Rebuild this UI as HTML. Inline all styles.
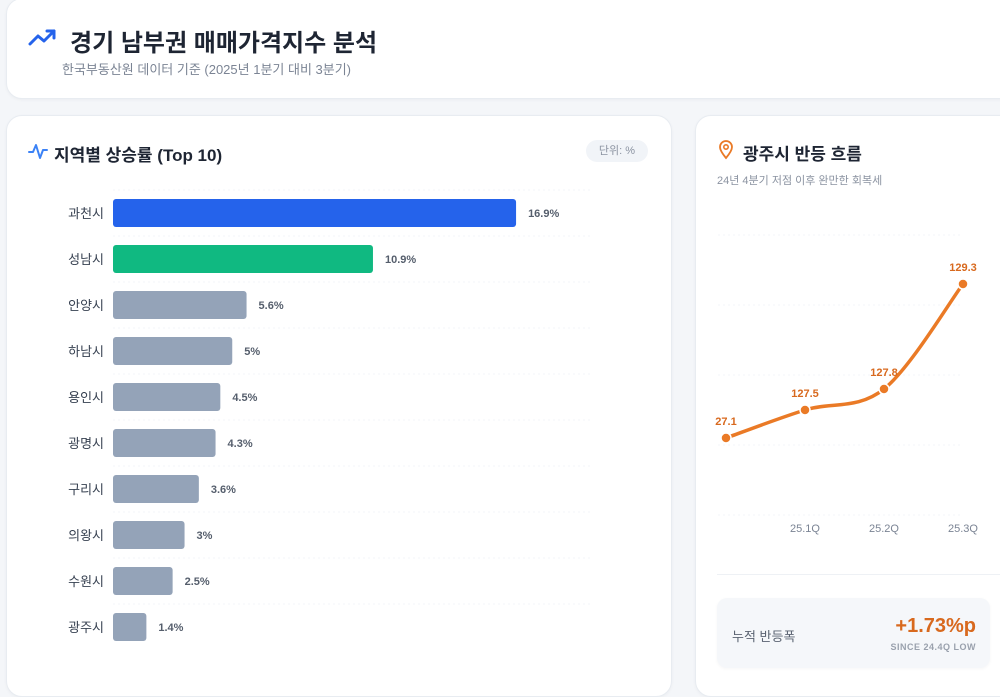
<!DOCTYPE html>
<html><head><meta charset="utf-8">
<style>
body{margin:0;width:1000px;height:671px;overflow:hidden;background:#f4f6f9;font-family:"Liberation Sans","Noto Sans CJK KR",sans-serif;position:relative}
.card{position:absolute;background:#fff;border:1px solid #e8ecf1;border-radius:16px;box-shadow:0 1px 3px rgba(0,0,0,0.04)}
.t{position:absolute;white-space:nowrap}
</style></head><body>
<div class="card" style="left:6px;top:-2px;width:1010px;height:99px"></div>
<svg style="position:absolute;left:28px;top:28px" width="30" height="20" viewBox="0 0 30 20"><polyline points="2,16 10,8 16,13 26,3" fill="none" stroke="#2563eb" stroke-width="3" stroke-linecap="round" stroke-linejoin="round"/><polyline points="19,3 26,3 26,10" fill="none" stroke="#2563eb" stroke-width="3" stroke-linecap="round" stroke-linejoin="round"/></svg>
<div class="t" style="left:70px;top:23px;font-size:24px;font-weight:bold;color:#1e2533">경기 남부권 매매가격지수 분석</div>
<div class="t" style="left:62px;top:59px;font-size:13px;color:#7b8494">한국부동산원 데이터 기준 (2025년 1분기 대비 3분기)</div>

<div class="card" style="left:6px;top:115px;width:664px;height:580px"></div>
<svg style="position:absolute;left:28px;top:142px" width="20" height="18" viewBox="0 0 20 18"><polyline points="1,10 5,10 8,3 12,16 15,8 19,8" fill="none" stroke="#3b82f6" stroke-width="2" stroke-linejoin="round" stroke-linecap="round"/></svg>
<div class="t" style="left:54px;top:141px;font-size:17px;font-weight:bold;color:#1e2533">지역별 상승률 (Top 10)</div>
<div class="t" style="left:586px;top:140px;width:62px;height:22px;line-height:22px;text-align:center;border-radius:11px;background:#f1f4f8;font-size:11px;color:#8b93a1">단위: %</div>
<svg id="bars" style="position:absolute;left:0;top:0" width="680" height="671"></svg>

<div class="card" style="left:695px;top:115px;width:330px;height:580px"></div>
<svg style="position:absolute;left:718px;top:140px" width="16" height="20" viewBox="0 0 16 20"><path d="M8 18 C3 12 2 9 2 7 A6 6 0 0 1 14 7 C14 9 13 12 8 18Z" fill="none" stroke="#ea7a26" stroke-width="1.8"/><circle cx="8" cy="7" r="2.2" fill="none" stroke="#ea7a26" stroke-width="1.6"/></svg>
<div class="t" style="left:743px;top:140px;font-size:17px;font-weight:bold;color:#1e2533">광주시 반등 흐름</div>
<div class="t" style="left:717px;top:172px;font-size:11px;color:#8b93a1">24년 4분기 저점 이후 완만한 회복세</div>
<svg id="line" style="position:absolute;left:0;top:0" width="1000" height="671"></svg>
<div style="position:absolute;left:717px;top:574px;width:283px;height:1px;background:#eef1f5"></div>
<div class="card" style="left:717px;top:598px;width:273px;height:70px;background:#f5f7fa;border:none;border-radius:10px"></div>
<div class="t" style="left:732px;top:626px;font-size:13px;color:#5b6472">누적 반등폭</div>
<div class="t" style="right:24px;top:615px;font-size:20px;font-weight:bold;color:#d8691e">+1.73%p</div>
<div class="t" style="right:24px;top:642px;font-size:9px;font-weight:bold;color:#9aa1ad;letter-spacing:0.5px">SINCE 24.4Q LOW</div>

<script>
const regions=["과천시","성남시","안양시","하남시","용인시","광명시","구리시","의왕시","수원시","광주시"];
const rates=[16.9,10.9,5.6,5,4.5,4.3,3.6,3,2.5,1.4];
const barColors=["#2563eb","#10b981","#94a3b8","#94a3b8","#94a3b8","#94a3b8","#94a3b8","#94a3b8","#94a3b8","#94a3b8"];
const quarters=["24.4Q","25.1Q","25.2Q","25.3Q"];
const indexVals=[127.1,127.5,127.8,129.3];
const indexLabels=["27.1","127.5","127.8","129.3"];
const yTicks=[126,127,128,129,130];

const NS="http://www.w3.org/2000/svg";
function mk(p,tag,a,txt){const e=document.createElementNS(NS,tag);for(const k in a)e.setAttribute(k,a[k]);if(txt!==undefined)e.textContent=txt;p.appendChild(e);return e;}
const bs=document.getElementById('bars');
const xB=v=>113+v/20*477;
const yB=i=>213+i*46;
regions.forEach((r,i)=>{
  const g=mk(bs,'line',{x1:113,x2:590,y1:yB(i)-23,y2:yB(i)-23,stroke:'#f3f5f8','stroke-dasharray':'2 3'});
  
  
  const l=mk(bs,'text',{x:104,y:yB(i)+5,'text-anchor':'end','font-size':13,fill:'#374151'},r);
  
  
  const b=mk(bs,'rect',{x:113,y:yB(i)-14,width:xB(rates[i])-113,height:28,rx:3,fill:barColors[i]});
  
  
  const v=mk(bs,'text',{x:xB(rates[i])+12,y:yB(i)+4,'font-size':11,'font-weight':'bold',fill:'#555e6c'},rates[i]+'%');
  
  
});
const ls=document.getElementById('line');
const xL=i=>726+i*79;
const yL=v=>515-(v-126)/4*280;
yTicks.forEach(t=>{
  const g=mk(ls,'line',{x1:718,x2:962,y1:yL(t),y2:yL(t),stroke:'#f3f5f8','stroke-dasharray':'2 3'});
  
  
});
quarters.forEach((q,i)=>{if(i===0)return;
  const t=mk(ls,'text',{x:xL(i),y:532,'text-anchor':'middle','font-size':11,fill:'#7b8494'},q);
  
  
});
const P=indexVals.map((v,i)=>[xL(i),yL(v)]);
let d='M'+P[0][0]+','+P[0][1];
for(let i=0;i<P.length-1;i++){
  const p0=P[Math.max(0,i-1)],p1=P[i],p2=P[i+1],p3=P[Math.min(P.length-1,i+2)];
  const c1=[p1[0]+(p2[0]-p0[0])/6,p1[1]+(p2[1]-p0[1])/6],c2=[p2[0]-(p3[0]-p1[0])/6,p2[1]-(p3[1]-p1[1])/6];
  d+=` C${c1[0]},${c1[1]} ${c2[0]},${c2[1]} ${p2[0]},${p2[1]}`;
}
const path=mk(ls,'path',{d:d,fill:'none',stroke:'#ea7a26','stroke-width':3.5,'stroke-linecap':'round'});


P.forEach((p,i)=>{
  const c=mk(ls,'circle',{cx:p[0],cy:p[1],r:5,fill:'#ea7a26',stroke:'#fff','stroke-width':1.5});
  
  
  const t=mk(ls,'text',{x:p[0],y:p[1]-13,'text-anchor':'middle','font-size':11,'font-weight':'bold',fill:'#d8691e'},indexLabels[i]);
  
  
});
</script>
</body></html>
